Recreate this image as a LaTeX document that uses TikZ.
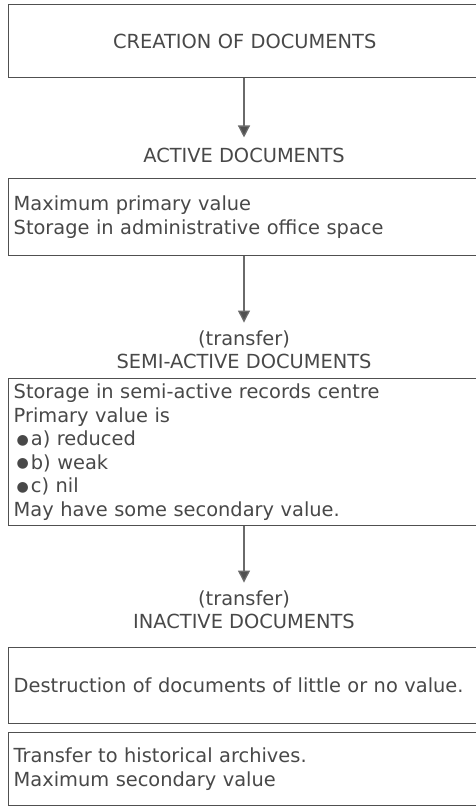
\documentclass[tikz,border=0pt]{standalone}
\usepackage{fontspec}
\setmainfont{DejaVu Sans}
\usetikzlibrary{arrows.meta}
\definecolor{txt}{HTML}{484848}
\definecolor{edge}{HTML}{505050}
\definecolor{arr}{HTML}{6A6A6A}
\newcommand\blt{\hspace*{3pt}\raisebox{1.5pt}{\fontsize{14}{14}\selectfont ●}\hspace{2pt}}
\tikzset{
  box/.style={draw=edge, line width=1.4pt, rectangle, minimum width=472pt,
    text width=462pt, inner xsep=5pt, inner ysep=0pt, align=left,
    text=txt, anchor=north west},
  lab/.style={text=txt, align=center, inner sep=2pt},
  flow/.style={draw=arr, line width=1.3pt,
    -{Triangle[width=12pt,length=12pt,fill=edge]}},
}
\begin{document}
\begin{tikzpicture}[x=1pt,y=1pt,font=\fontsize{19.4}{23.5}\selectfont]
\useasboundingbox (0,0) rectangle (475,-808);
\node[box, minimum height=73pt, align=center] (b1) at (8,-4) {CREATION OF DOCUMENTS};
\node[lab] (l1) at (244,-155) {ACTIVE DOCUMENTS};
\node[box, minimum height=77pt] (b2) at (8,-178) {Maximum primary value\\Storage in administrative office space};
\node[lab] (l2) at (244,-350) {(transfer)\\SEMI-ACTIVE DOCUMENTS};
\node[box, minimum height=147pt] (b3) at (8,-378) {Storage in semi-active records centre\\Primary value is\\\blt a) reduced\\\blt b) weak\\\blt c) nil\\May have some secondary value.};
\node[lab] (l3) at (244,-610) {(transfer)\\INACTIVE DOCUMENTS};
\node[box, minimum height=76pt] (b4) at (8,-647) {Destruction of documents of little or no value.};
\node[box, minimum height=73pt] (b5) at (8,-732) {Transfer to historical archives.\\Maximum secondary value};
\draw[flow] (b1.south -| l1) -- ([yshift=8pt]l1.north);
\draw[flow] (b2.south -| l2) -- ([yshift=6pt]l2.north);
\draw[flow] (b3.south -| l3) -- ([yshift=6pt]l3.north);
\end{tikzpicture}
\end{document}
